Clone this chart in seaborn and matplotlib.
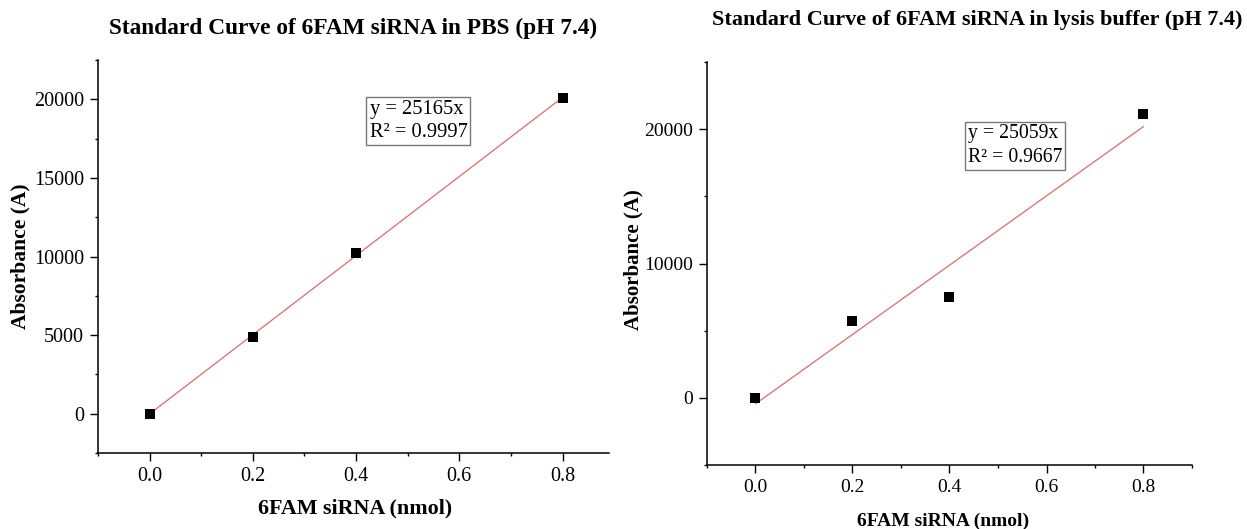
import matplotlib
matplotlib.use("Agg")
import matplotlib.pyplot as plt
import seaborn as sns
from matplotlib.ticker import MultipleLocator

# amounts of 6FAM siRNA (nmol)
amount = [0.0, 0.2, 0.4, 0.8]

# absorbance readings
abs_pbs = [0, 4880, 10250, 20060]
abs_lysis = [0, 5710, 7490, 21140]

eq_pbs = "y = 25165x\nR\u00b2 = 0.9997"
eq_lysis = "y = 25059x\nR\u00b2 = 0.9667"

title_pbs = "Standard Curve of 6FAM siRNA in PBS (pH 7.4)"
title_lysis = "Standard Curve of 6FAM siRNA in lysis buffer (pH 7.4)"

sns.set_style("ticks")
plt.rcParams["font.family"] = ["Liberation Serif", "DejaVu Serif"]
plt.rcParams["text.color"] = "black"

W, H = 1247, 529
fig = plt.figure(figsize=(W / 100, H / 100), dpi=100)

ax1 = fig.add_axes([98 / W, 1 - 453 / H, 511 / W, 393 / H])
ax2 = fig.add_axes([707 / W, 1 - 465 / H, 485 / W, 403 / H])

line_color = "#df6a66"


def draw(ax, y, xmax, ylim, ymaj, eq, eq_xy, fs, eq_fs):
    sns.regplot(x=amount, y=y, ax=ax, ci=None, marker="s",
                scatter_kws={"s": 50, "color": "black", "alpha": 1,
                             "linewidths": 0, "zorder": 3},
                line_kws={"color": line_color, "lw": 0.9, "zorder": 2})
    ax.set_xlim(-0.1, xmax)
    ax.set_ylim(*ylim)
    ax.xaxis.set_major_locator(MultipleLocator(0.2))
    ax.xaxis.set_minor_locator(MultipleLocator(0.1))
    ax.yaxis.set_major_locator(MultipleLocator(ymaj))
    ax.yaxis.set_minor_locator(MultipleLocator(ymaj / 2))
    ax.xaxis.set_major_formatter(plt.FuncFormatter(lambda v, p: f"{v:.1f}"))
    sns.despine(ax=ax)
    for s in ("left", "bottom"):
        ax.spines[s].set_linewidth(1.1)
        ax.spines[s].set_color("black")
    ax.tick_params(which="major", length=6, width=1.0, labelsize=fs,
                   colors="black", pad=4)
    ax.tick_params(which="minor", length=2.5, width=1.0, colors="black")
    ax.set_xlabel("")
    ax.set_ylabel("")
    ax.text(eq_xy[0], eq_xy[1], eq, fontsize=eq_fs, va="top", ha="left",
            linespacing=1.3, color="black",
            bbox=dict(boxstyle="square,pad=0.15", fc="white", ec="#777777", lw=1.0))


draw(ax1, abs_pbs, 0.89, (-2500, 22500), 5000, eq_pbs, (0.426, 19950), 14.5, 14.8)
draw(ax2, abs_lysis, 0.9, (-5000, 25000), 10000, eq_lysis, (0.438, 20350), 14, 14.2)

fig.text(353 / W, 1 - 28 / H, title_pbs, ha="center", va="center",
         fontsize=16.8, fontweight="bold")
fig.text(977 / W, 1 - 20 / H, title_lysis, ha="center", va="center",
         fontsize=16, fontweight="bold")

fig.text(355 / W, 1 - 508 / H, "6FAM siRNA (nmol)", ha="center", va="center",
         fontsize=15.8, fontweight="bold")
fig.text(943 / W, 1 - 521 / H, "6FAM siRNA (nmol)", ha="center", va="center",
         fontsize=14, fontweight="bold")
fig.text(20 / W, 1 - 256 / H, "Absorbance (A)", ha="center", va="center",
         rotation=90, fontsize=15.5, fontweight="bold")
fig.text(633 / W, 1 - 260 / H, "Absorbance (A)", ha="center", va="center",
         rotation=90, fontsize=15, fontweight="bold")

fig.savefig("out.png", dpi=100)
